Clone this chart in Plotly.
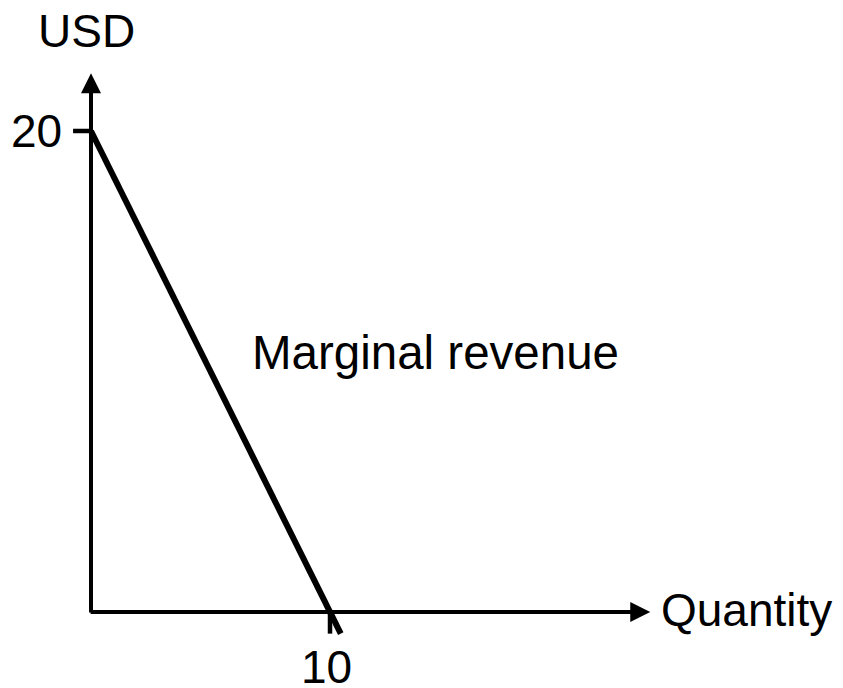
"""
Marginal revenue diagram: straight MR line against quantity, drawn with Plotly.
"""

import plotly.graph_objects as go

# === Data ===
# Marginal revenue line (quantity, USD); drawn slightly past the quantity axis
quantity = [0, 10.45]
usd = [20, -0.9]

x_ticks = [10]
x_tick_labels = ["10"]
y_ticks = [20]
y_tick_labels = ["20"]

# Where the axis arrows end
x_axis_end = 23.4
y_axis_end = 22.4

FONT = "Liberation Sans, Arial, sans-serif"
FONT_SIZE = 46
BLACK = "#000000"

fig = go.Figure()

fig.add_trace(go.Scatter(
    x=quantity, y=usd,
    mode="lines",
    line=dict(color=BLACK, width=6),
    showlegend=False,
    hoverinfo="skip",
))

# Axis lines with arrowheads
for tip_x, tip_y, tail_x, tail_y in [(x_axis_end, 0, -0.08, 0), (0, y_axis_end, 0, -0.08)]:
    fig.add_annotation(
        x=tip_x, y=tip_y, ax=tail_x, ay=tail_y,
        xref="x", yref="y", axref="x", ayref="y",
        text="", showarrow=True,
        arrowhead=2, arrowsize=1, arrowwidth=4, arrowcolor=BLACK,
        font=dict(size=1),
    )

# Tick marks and labels
for val, label in zip(x_ticks, x_tick_labels):
    fig.add_shape(type="line", x0=val, x1=val, y0=0, y1=-0.9,
                  line=dict(color=BLACK, width=4.5))
    fig.add_annotation(x=val - 0.13, y=-2.3, text=label, showarrow=False,
                       font=dict(family=FONT, size=FONT_SIZE, color=BLACK))

for val, label in zip(y_ticks, y_tick_labels):
    fig.add_shape(type="line", x0=-0.75, x1=0, y0=val, y1=val,
                  line=dict(color=BLACK, width=4.5))
    fig.add_annotation(x=-1.15, y=val, text=label, showarrow=False,
                       xanchor="right",
                       font=dict(family=FONT, size=FONT_SIZE, color=BLACK))

# Axis titles and curve label
fig.add_annotation(x=-0.17, y=24.15, text="USD", showarrow=False,
                   font=dict(family=FONT, size=FONT_SIZE, color=BLACK))
fig.add_annotation(x=23.77, y=0.1, text="Quantity", showarrow=False,
                   xanchor="left",
                   font=dict(family=FONT, size=FONT_SIZE, color=BLACK))
fig.add_annotation(x=14.41, y=10.8, text="Marginal revenue", showarrow=False,
                   font=dict(family=FONT, size=47.5, color=BLACK))

# the page body keeps an 8px margin, so the ranges are offset to match
fig.update_layout(
    width=843, height=688,
    margin=dict(l=0, r=0, t=0, b=0),
    paper_bgcolor="white",
    plot_bgcolor="white",
    font=dict(family=FONT),
    xaxis=dict(range=[-3.473, 31.799], visible=False, fixedrange=True),
    yaxis=dict(range=[-3.493, 25.114], visible=False, fixedrange=True),
)

fig.write_html("out.html")
